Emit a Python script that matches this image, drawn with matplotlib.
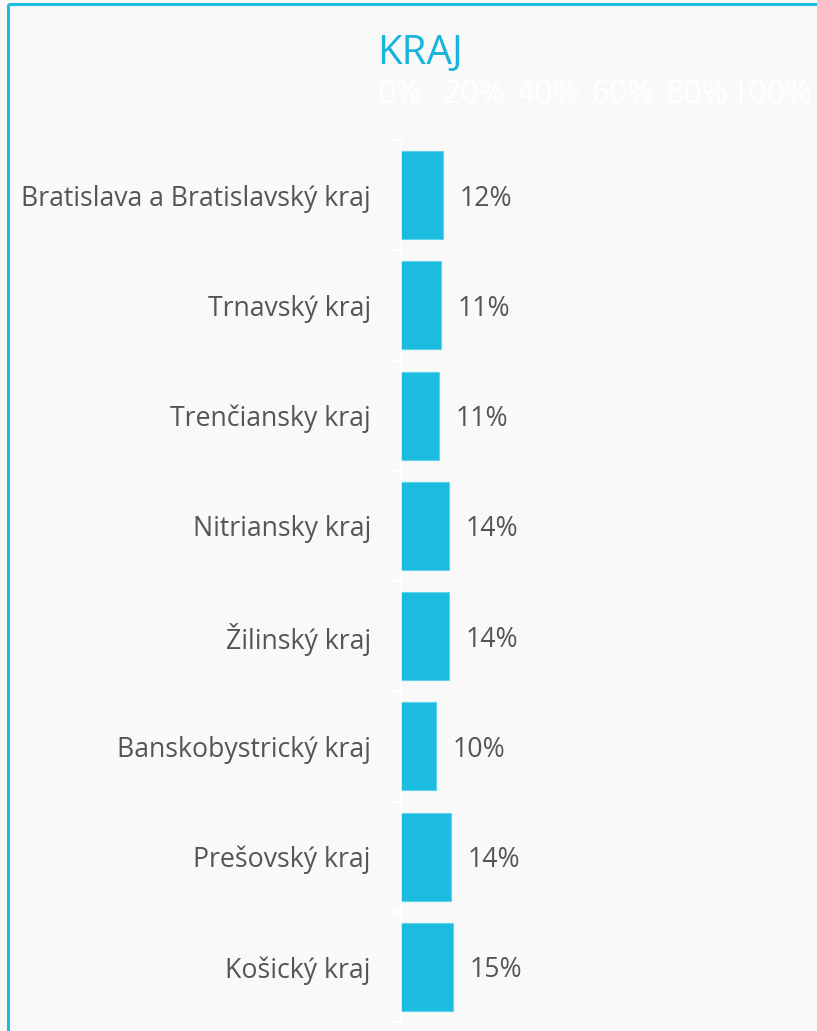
import matplotlib
matplotlib.use("Agg")
import matplotlib.pyplot as plt
from matplotlib.lines import Line2D
import numpy as np

categories = ["Bratislava a Bratislavský kraj", "Trnavský kraj", "Trenčiansky kraj",
              "Nitriansky kraj", "Žilinský kraj", "Banskobystrický kraj",
              "Prešovský kraj", "Košický kraj"]
values = [11.6, 11.0, 10.5, 13.2, 13.2, 9.7, 13.7, 14.2]
value_labels = ["12%", "11%", "11%", "14%", "14%", "10%", "14%", "15%"]
x_ticks = [0, 20, 40, 60, 80, 100]
x_tick_labels = ["0%", "20%", "40%", "60%", "80%", "100%"]
title = "KRAJ"

W, H = 817, 1031
DPI = 100
BG = "#f9f9f9"
CYAN = "#1bbce0"
TEXT = "#555555"

plt.rcParams['font.family'] = ['Open Sans', 'DejaVu Sans']

fig = plt.figure(figsize=(W / DPI, H / DPI), dpi=DPI, facecolor=BG)

# border (top and left visible)
fig.add_artist(Line2D([7.5 / W, 7.5 / W], [0, 1 - 3.5 / H], transform=fig.transFigure,
                      color=CYAN, lw=2.2, solid_capstyle='butt'))
fig.add_artist(Line2D([7.5 / W, 1], [1 - 3.5 / H, 1 - 3.5 / H], transform=fig.transFigure,
                      color=CYAN, lw=2.2, solid_capstyle='butt'))

left, right, top, bottom = 400, 771, 140, 1022
ax = fig.add_axes([left / W, 1 - bottom / H, (right - left) / W, (bottom - top) / H])
ax.set_facecolor(BG)

n = len(categories)
y = np.arange(n)
ax.barh(y, values, height=0.8, color=CYAN, edgecolor="#5fd3ee", linewidth=0.8)
ax.set_xlim(0, 100)
ax.set_ylim(n - 0.5, -0.5)

for yi, v, lab in zip(y, values, value_labels):
    ax.annotate(lab, (v, yi), xytext=(12.2, -2.5), textcoords="offset points",
                ha="left", va="center", fontsize=19.2, color=TEXT)

# y axis
ax.set_yticks(y)
ax.set_yticklabels(categories, fontsize=19.2, color=TEXT)
ax.tick_params(axis='y', which='major', length=0, pad=21)
ax.set_yticks(np.arange(n + 1) - 0.5, minor=True)
ax.tick_params(axis='y', which='minor', length=6.5, width=1.5, color="white", direction='out')

# x axis on top, white labels
ax.xaxis.tick_top()
ax.set_xticks(x_ticks)
ax.set_xticklabels(x_tick_labels, fontsize=23, color="white")
ax.tick_params(axis='x', length=0, pad=21)

for s in ["top", "right", "bottom"]:
    ax.spines[s].set_visible(False)
ax.spines["left"].set_color("white")
ax.spines["left"].set_linewidth(1.8)

fig.text(377 / W, 1 - 54 / H, title, fontsize=29, color="#1ab3da", ha="left", va="center")

fig.savefig("out.png", dpi=DPI, facecolor=BG)
